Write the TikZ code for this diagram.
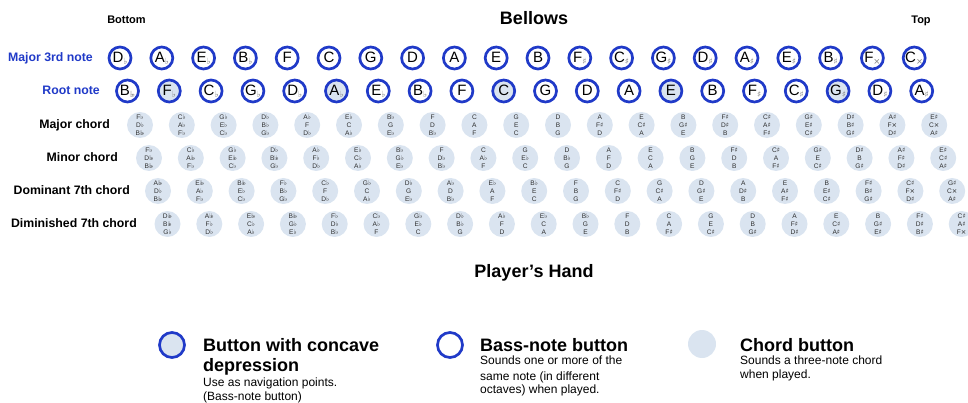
\documentclass[tikz,border=0pt]{standalone}
\usepackage{fontspec}
\setmainfont{Liberation Sans}
\newfontfamily\accfont{DejaVu Sans}
\definecolor{btnblue}{RGB}{32,58,200}
\definecolor{cfill}{RGB}{218,228,240}
\definecolor{ctext}{RGB}{45,45,45}
\definecolor{accgray}{RGB}{130,130,130}
\newcommand\fl{{\accfont ♭}}
\newcommand\sh{{\accfont ♯}}
\newcommand\dfl{{\accfont ♭\kern-0.3em♭}}
\newcommand\dsh{{\accfont ×}}
\newcommand\bl[2]{{\fontsize{15}{15}\selectfont #1}\raisebox{-2pt}{\fontsize{8.5}{8.5}\selectfont\color{accgray}#2}}
\begin{document}
\begin{tikzpicture}[x=1pt,y=-1pt,
  bass/.style={circle,draw=btnblue,line width=2.7pt,minimum size=22pt,inner sep=0pt,fill=white},
  chord/.style={circle,fill=cfill,minimum size=26pt,inner sep=0pt,align=center,text=ctext,font=\fontsize{6.6}{7.9}\selectfont},
  rowlabel/.style={anchor=base east,inner sep=0pt,font=\bfseries\fontsize{12.3}{13}\selectfont},
  title/.style={anchor=base,inner sep=0pt,font=\bfseries\fontsize{18}{18}\selectfont},
  small/.style={anchor=base,inner sep=0pt,font=\bfseries\fontsize{11}{11}\selectfont},
  lgtitle/.style={anchor=base west,inner sep=0pt,font=\bfseries\fontsize{18}{21}\selectfont},
  lgsub/.style={anchor=base west,inner sep=0pt,font=\fontsize{12}{14}\selectfont}]
\useasboundingbox (0,0) rectangle (968,403);
% headings
\node[small] (bottom) at (126.5,24) {Bottom};
\node[title] (bellows) at (534,25) {Bellows};
\node[small] (top) at (921,24) {Top};
\node[title] (hand) at (534,277) {Player's Hand};
% row labels
\node[rowlabel,text=btnblue] (l1) at (93,62) {Major 3rd note};
\node[rowlabel,text=btnblue] (l2) at (100,95) {Root note};
\node[rowlabel] (l3) at (110,129) {Major chord};
\node[rowlabel] (l4) at (118,162) {Minor chord};
\node[rowlabel] (l5) at (130,195) {Dominant 7th chord};
\node[rowlabel] (l6) at (137,228) {Diminished 7th chord};
% major third row
\foreach \n/\a [count=\i from 0] in {D/\fl,A/\fl,E/\fl,B/\fl,F/{},C/{},G/{},D/{},A/{},E/{},B/{},F/\sh,C/\sh,G/\sh,D/\sh,A/\sh,E/\sh,B/\sh,F/\dsh,C/\dsh}
  \node[bass] (t\i) at (120+41.8*\i,58) {\bl{\n}{\a}};
% root row
\foreach \n/\a/\f [count=\i from 0] in {B/\dfl/white,F/\fl/cfill,C/\fl/white,G/\fl/white,D/\fl/white,A/\fl/cfill,E/\fl/white,B/\fl/white,F/{}/white,C/{}/cfill,G/{}/white,D/{}/white,A/{}/white,E/{}/cfill,B/{}/white,F/\sh/white,C/\sh/white,G/\sh/cfill,D/\sh/white,A/\sh/white}
  \node[bass,fill=\f] (r\i) at (127.5+41.8*\i,91) {\bl{\n}{\a}};
% major chords
\foreach \a/\b/\c [count=\i from 0] in {F\fl/D\fl/B\dfl,C\fl/A\fl/F\fl,G\fl/E\fl/C\fl,D\fl/B\fl/G\fl,A\fl/F/D\fl,E\fl/C/A\fl,B\fl/G/E\fl,F/D/B\fl,C/A/F,G/E/C,D/B/G,A/F\sh/D,E/C\sh/A,B/G\sh/E,F\sh/D\sh/B,C\sh/A\sh/F\sh,G\sh/E\sh/C\sh,D\sh/B\sh/G\sh,A\sh/F\dsh/D\sh,E\sh/C\dsh/A\sh}
  \node[chord] (maj\i) at (140+41.8*\i,125) {\a\\\b\\\c};
% minor chords
\foreach \a/\b/\c [count=\i from 0] in {F\fl/D\dfl/B\dfl,C\fl/A\dfl/F\fl,G\fl/E\dfl/C\fl,D\fl/B\dfl/G\fl,A\fl/F\fl/D\fl,E\fl/C\fl/A\fl,B\fl/G\fl/E\fl,F/D\fl/B\fl,C/A\fl/F,G/E\fl/C,D/B\fl/G,A/F/D,E/C/A,B/G/E,F\sh/D/B,C\sh/A/F\sh,G\sh/E/C\sh,D\sh/B/G\sh,A\sh/F\sh/D\sh,E\sh/C\sh/A\sh}
  \node[chord] (min\i) at (149+41.8*\i,158) {\a\\\b\\\c};
% dominant 7th chords
\foreach \a/\b/\c [count=\i from 0] in {A\dfl/D\fl/B\dfl,E\dfl/A\fl/F\fl,B\dfl/E\fl/C\fl,F\fl/B\fl/G\fl,C\fl/F/D\fl,G\fl/C/A\fl,D\fl/G/E\fl,A\fl/D/B\fl,E\fl/A/F,B\fl/E/C,F/B/G,C/F\sh/D,G/C\sh/A,D/G\sh/E,A/D\sh/B,E/A\sh/F\sh,B/E\sh/C\sh,F\sh/B\sh/G\sh,C\sh/F\dsh/D\sh,G\sh/C\dsh/A\sh}
  \node[chord] (dom\i) at (158+41.8*\i,191) {\a\\\b\\\c};
% diminished 7th chords
\foreach \a/\b/\c [count=\i from 0] in {D\dfl/B\dfl/G\fl,A\dfl/F\fl/D\fl,E\dfl/C\fl/A\fl,B\dfl/G\fl/E\fl,F\fl/D\fl/B\fl,C\fl/A\fl/F,G\fl/E\fl/C,D\fl/B\fl/G,A\fl/F/D,E\fl/C/A,B\fl/G/E,F/D/B,C/A/F\sh,G/E/C\sh,D/B/G\sh,A/F\sh/D\sh,E/C\sh/A\sh,B/G\sh/E\sh,F\sh/D\sh/B\sh,C\sh/A\sh/F\dsh}
  \node[chord] (dim\i) at (167.5+41.8*\i,224) {\a\\\b\\\c};
% legend
\node[bass,fill=cfill,minimum size=25pt] (lg1) at (172,345) {};
\node[bass,minimum size=25pt] (lg2) at (450,345) {};
\node[chord,minimum size=28pt] (lg3) at (702,344) {};
\node[lgtitle] (lg1a) at (203,351) {Button with concave};
\node[lgtitle] (lg1b) at (203,371) {depression};
\node[lgsub] (lg1c) at (203,386) {Use as navigation points.};
\node[lgsub] (lg1d) at (203,400) {(Bass-note button)};
\node[lgtitle] (lg2a) at (480,351) {Bass-note button};
\node[lgsub] (lg2b) at (480,364) {Sounds one or more of the};
\node[lgsub] (lg2c) at (480,380) {same note (in different};
\node[lgsub] (lg2d) at (480,393) {octaves) when played.};
\node[lgtitle] (lg3a) at (740,351) {Chord button};
\node[lgsub] (lg3b) at (740,364) {Sounds a three-note chord};
\node[lgsub] (lg3c) at (740,378) {when played.};
\end{tikzpicture}
\end{document}
